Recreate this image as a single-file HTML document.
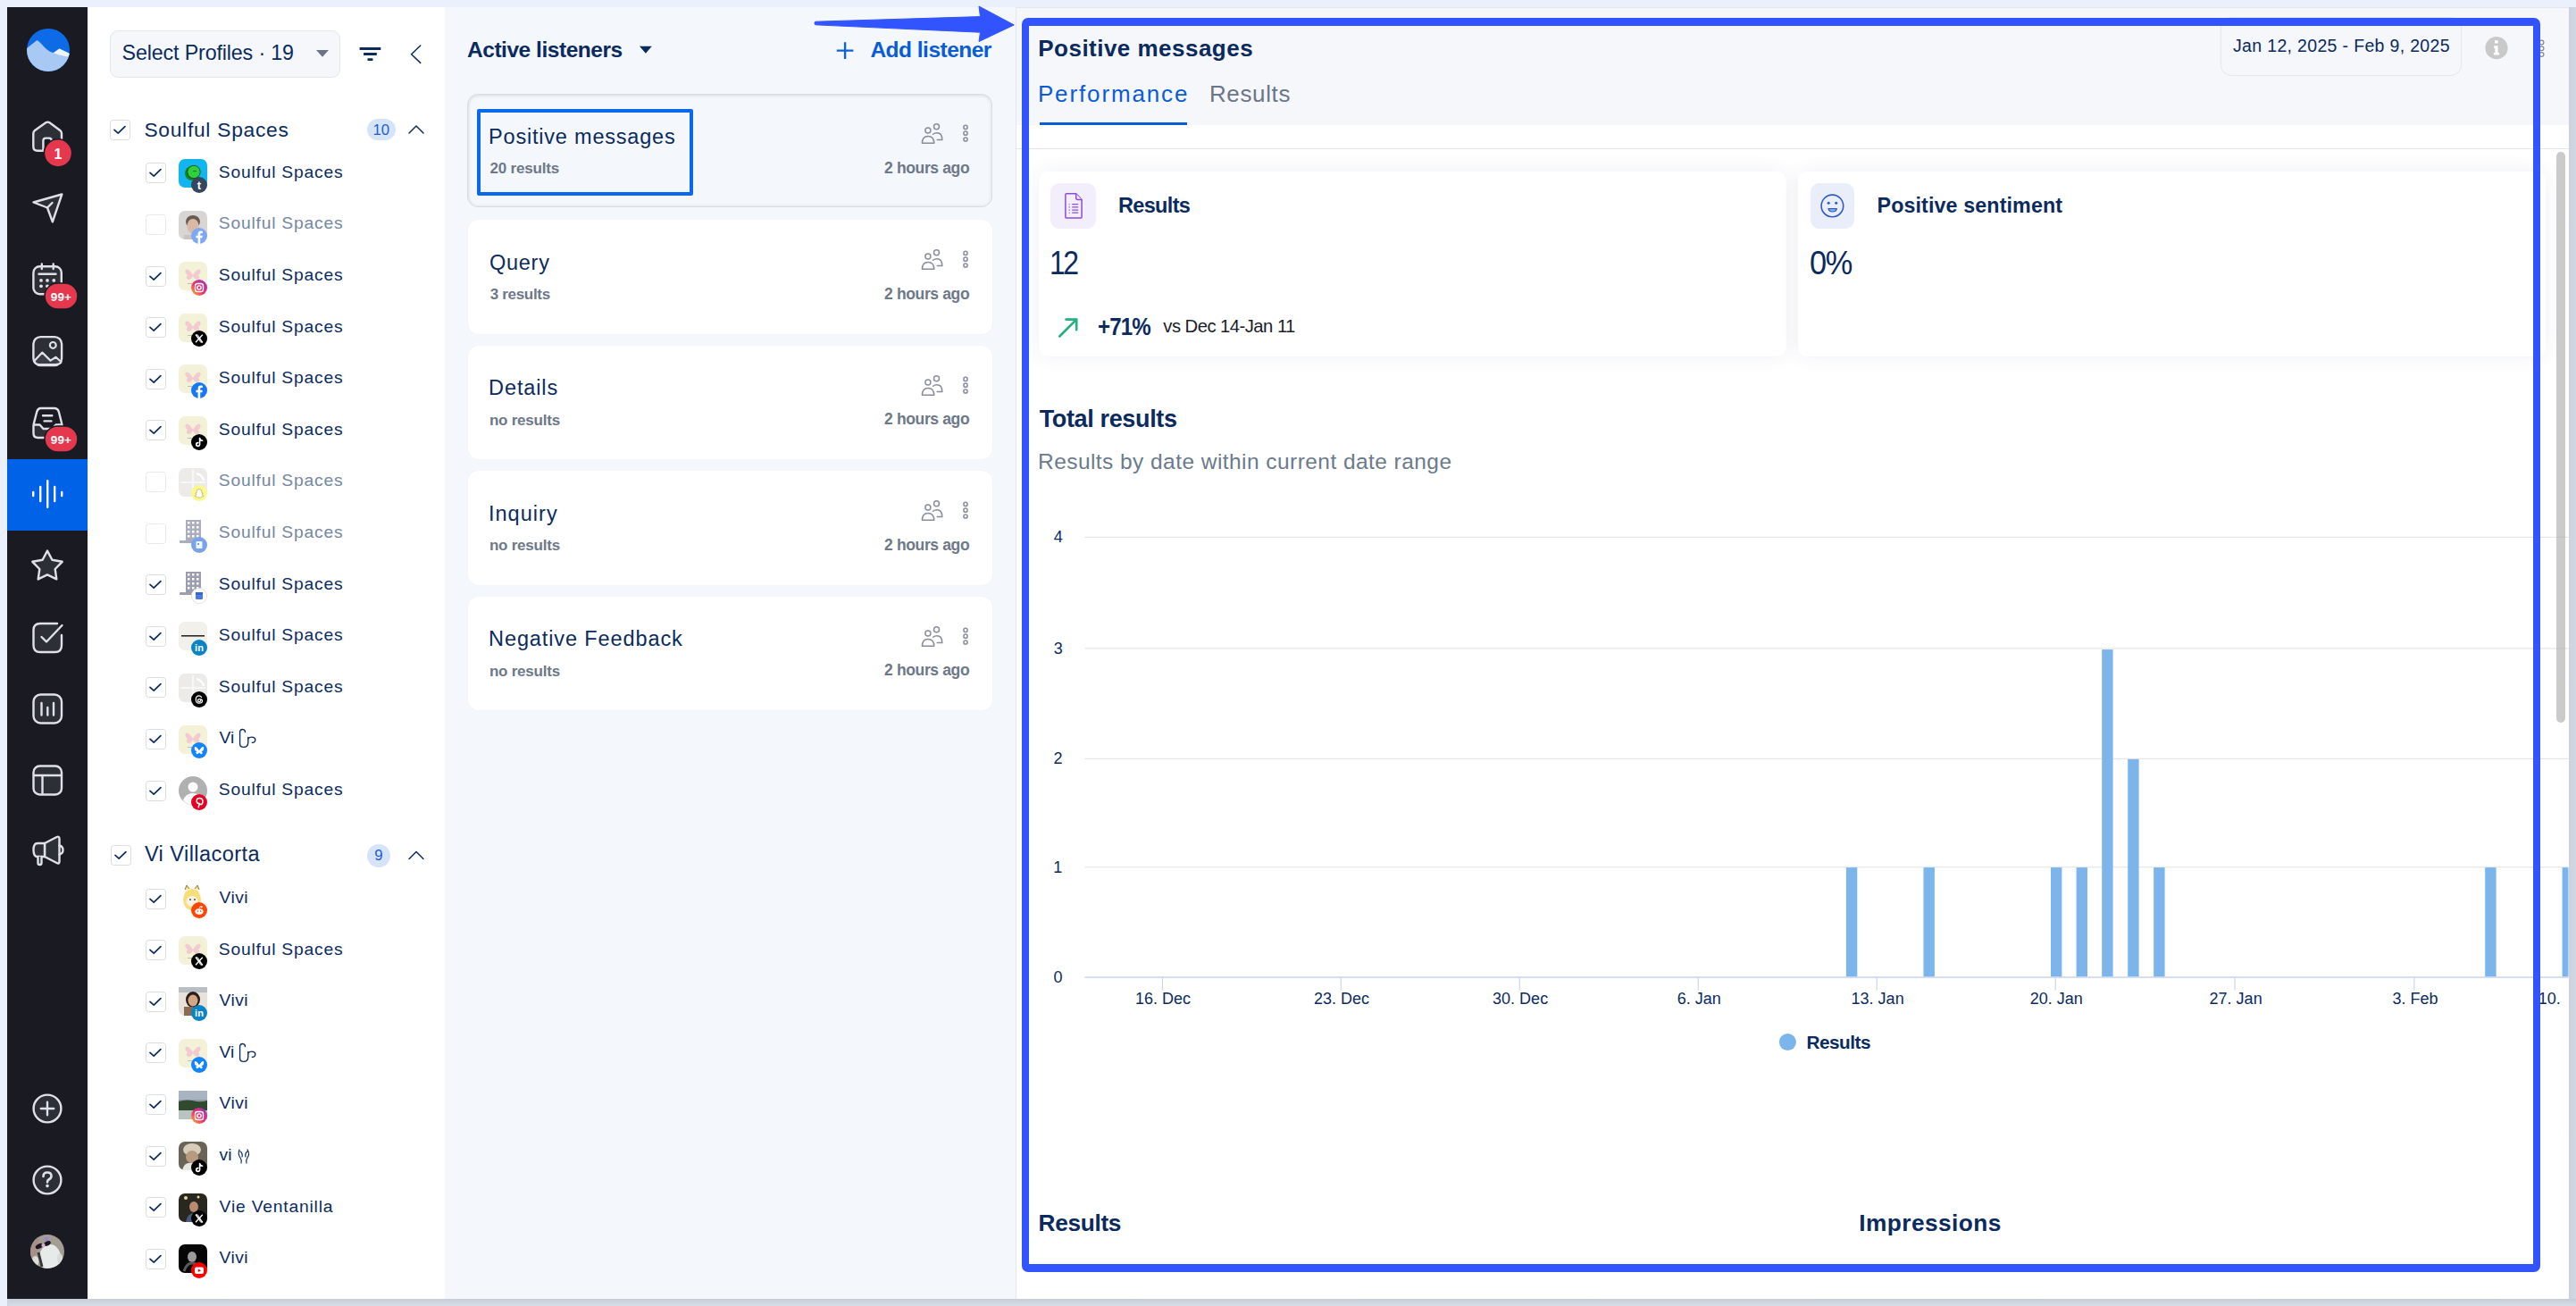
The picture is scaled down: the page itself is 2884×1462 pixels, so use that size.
<!DOCTYPE html>
<html><head><meta charset="utf-8"><title>Listening</title>
<style>
html,body{margin:0;padding:0;width:2884px;height:1462px;overflow:hidden;background:#EAF1FC;font-family:"Liberation Sans",sans-serif;color:#0B2B5E}
.t{position:absolute;line-height:1;white-space:nowrap}
svg{position:absolute;overflow:visible}
</style></head><body>
<div style="position:absolute;left:8px;top:8px;width:2876px;height:1454px;background:#CDD5E0;"></div>
<div style="position:absolute;left:10px;top:1454px;width:2874px;height:8px;background:linear-gradient(#C7CDD8,#D8DEE8);"></div>
<div style="position:absolute;left:2876px;top:8px;width:8px;height:1446px;background:linear-gradient(90deg,#CBD2DD,#D3D9E3);"></div>
<div style="position:absolute;left:8px;top:8px;width:90px;height:1446px;background:#1A1B22;"></div>
<div style="position:absolute;left:8px;top:514px;width:90px;height:80px;background:#0062E6;"></div>
<div style="position:absolute;left:98px;top:8px;width:400px;height:1446px;background:#FFFFFF;"></div>
<div style="position:absolute;left:498px;top:8px;width:639px;height:1446px;background:#F4F7FB;"></div>
<div style="position:absolute;left:1137px;top:8px;width:1739px;height:1446px;background:#FFFFFF;border-left:1px solid #E3E7EC;box-sizing:border-box;"></div>
<div style="position:absolute;left:1138px;top:8px;width:1738px;height:132px;background:#F5F7FB;"></div>
<div style="position:absolute;left:1138px;top:166px;width:1738px;height:1px;background:#E4E7EB;"></div>
<div style="position:absolute;left:1137px;top:8px;width:1739px;height:1px;background:#E3E7ED;"></div>
<svg style="left:0;top:0" width="110" height="1462" viewBox="0 0 110 1462"><defs><clipPath id="lc"><circle cx="54" cy="56" r="24"/></clipPath><clipPath id="avc"><circle cx="53" cy="1401" r="19"/></clipPath><radialGradient id="avg" cx="0.5" cy="0.6" r="0.6"><stop offset="0" stop-color="#F0F0F0"/><stop offset="0.5" stop-color="#B8B5B8"/><stop offset="1" stop-color="#6A6870"/></radialGradient></defs><g clip-path="url(#lc)"><rect x="30" y="32" width="48" height="48" fill="#0E6BE8"/><path d="M30,54 L41.5,45 C46,47 52,58 60,59 L66.5,54.5 L78,60 V80 H30 Z" fill="#A9C9F5"/><path d="M60,59 L66.5,54.5 L78,60 L77,63.5 C70,63 64,61 60,59 Z" fill="#EEF4FD"/></g><path d="M48.4,168.7 H42 Q37.3,168.7 37.3,164 V149.5 Q37.3,147.3 39,146 L51.3,137.3 Q53.4,135.9 55.5,137.3 L67.3,146 Q69,147.3 69,149.5 V164 Q69,168.7 64.3,168.7 H57.8 V157.5 Q57.8,154.6 54.9,154.6 H51.3 Q48.4,154.6 48.4,157.5 Z" fill="#2D2F37" stroke="#DEE1E8" stroke-width="2.4" stroke-linejoin="round" stroke-linecap="round"/><circle cx="65" cy="171.4" r="15.6" fill="#E5384F" stroke="#1A1B22" stroke-width="1.6"/><text x="65" y="177.8" font-family="Liberation Sans" font-weight="700" font-size="16" fill="#fff" text-anchor="middle">1</text><path d="M37.5,226.5 L69.3,217.5 L58.8,248.3 L53,232.5 Z" fill="#2D2F37" stroke="#DEE1E8" stroke-width="2.4" stroke-linejoin="round" stroke-linecap="round"/><path d="M53,232.5 L58.5,227" fill="none" stroke="#DEE1E8" stroke-width="2.4" stroke-linecap="round"/><rect x="37.4" y="298.2" width="31.4" height="31" rx="7" fill="#2D2F37" stroke="#DEE1E8" stroke-width="2.4" stroke-linejoin="round" stroke-linecap="round"/><path d="M43.5,306.8 H62.5 M46.8,295.5 V301 M59.7,295.5 V301" stroke="#DEE1E8" stroke-width="2.4" stroke-linecap="round"/><circle cx="46" cy="313.9" r="1.9" fill="#DEE1E8"/><circle cx="53" cy="313.9" r="1.9" fill="#DEE1E8"/><circle cx="60.3" cy="313.9" r="1.9" fill="#DEE1E8"/><circle cx="46" cy="320.3" r="1.9" fill="#DEE1E8"/><circle cx="53" cy="320.3" r="1.9" fill="#DEE1E8"/><rect x="50" y="317" width="37" height="29" rx="14.5" fill="#E5384F" stroke="#1A1B22" stroke-width="1.6"/><text x="68.5" y="337" font-family="Liberation Sans" font-weight="700" font-size="13.4" fill="#fff" text-anchor="middle" letter-spacing="0.2">99+</text><rect x="37.4" y="377.1" width="31.7" height="32" rx="8" fill="#2D2F37" stroke="#DEE1E8" stroke-width="2.4" stroke-linejoin="round" stroke-linecap="round"/><path d="M38.5,404 L47.3,394.6 L56.5,403.6 L62.6,399.8 L68.2,405 L68.2,406 Q66,408 62,408 H44 Q39.5,408 38.5,404 Z" fill="#3C3E47" stroke="#DEE1E8" stroke-width="2.2" stroke-linejoin="round"/><circle cx="59.3" cy="386.4" r="3.4" fill="none" stroke="#DEE1E8" stroke-width="2.2"/><path d="M38.5,475.5 H44.5 L48.5,480 H58.5 L62.5,475.5 H68.8 V485 Q68.8,489.2 64.5,489.2 H42.5 Q38.3,489.2 38.3,485 Z" fill="#2D2F37"/><path d="M45.5,457 H60.8 Q64.6,457 65.8,460.8 L69,473.5 Q69.5,475.5 69.5,478 V485 Q69.5,490 64.5,490 H42.5 Q37.5,490 37.5,485 V478 Q37.5,475.5 38,473.5 L41.3,460.8 Q42.5,457 45.5,457 Z" fill="none" stroke="#DEE1E8" stroke-width="2.4" stroke-linejoin="round"/><path d="M38.2,475.5 H44.5 L48.5,480 H58.5 L62.5,475.5 H68.8" fill="none" stroke="#DEE1E8" stroke-width="2.4" stroke-linejoin="round"/><path d="M48,465.2 H58.3 M49.6,471.4 H57.4" stroke="#DEE1E8" stroke-width="2.4" stroke-linecap="round"/><rect x="50" y="477" width="37" height="29" rx="14.5" fill="#E5384F" stroke="#1A1B22" stroke-width="1.6"/><text x="68.5" y="497" font-family="Liberation Sans" font-weight="700" font-size="13.4" fill="#fff" text-anchor="middle" letter-spacing="0.2">99+</text><path d="M37.2,551 V555 M45.2,545 V561 M53.2,538.2 V567.8 M61.2,545 V561 M69.2,551 V555" stroke="#fff" stroke-width="2.4" stroke-linecap="round"/><polygon points="53.0,616.6 58.4,626.8 69.7,628.8 61.7,637.0 63.3,648.4 53.0,643.4 42.7,648.4 44.3,637.0 36.3,628.8 47.6,626.8" fill="#2D2F37" stroke="#DEE1E8" stroke-width="2.4" stroke-linejoin="round" stroke-linecap="round" stroke-linejoin="round"/><path d="M64,698 H45 Q37.5,698 37.5,705.5 V722.5 Q37.5,730 45,730 H61.5 Q69,730 69,722.5 V711" fill="#2D2F37" stroke="#DEE1E8" stroke-width="2.4" stroke-linejoin="round" stroke-linecap="round"/><path d="M46.5,713 L52,718.5 L69.5,700" fill="none" stroke="#DEE1E8" stroke-width="2.4" stroke-linecap="round" stroke-linejoin="round"/><rect x="37.5" y="777.5" width="31.5" height="32" rx="8" fill="#2D2F37" stroke="#DEE1E8" stroke-width="2.4" stroke-linejoin="round" stroke-linecap="round"/><path d="M46.5,787 V800.5 M53.3,792 V800.5 M60,787 V800.5" stroke="#DEE1E8" stroke-width="2.4" stroke-linecap="round"/><rect x="37.5" y="857.5" width="31.5" height="32" rx="7" fill="#2D2F37" stroke="#DEE1E8" stroke-width="2.4" stroke-linejoin="round" stroke-linecap="round"/><path d="M38,868 H68.5 M47.5,868 V889" stroke="#DEE1E8" stroke-width="2.4"/><path d="M50,944 L63.5,937 Q66.5,935.8 66.5,939 V964.5 Q66.5,967.5 63.5,966 L50,959 Z" fill="#2D2F37" stroke="#DEE1E8" stroke-width="2.4" stroke-linejoin="round" stroke-linecap="round"/><path d="M50,944 H42 Q37.5,944 37.5,951.5 Q37.5,959 42,959 H50 Z" fill="#2D2F37" stroke="#DEE1E8" stroke-width="2.4" stroke-linejoin="round" stroke-linecap="round"/><path d="M42.5,959 V966 Q42.5,968 44.5,968 Q46.5,968 46.5,966 V959" fill="#2D2F37" stroke="#DEE1E8" stroke-width="2.4" stroke-linejoin="round" stroke-linecap="round"/><path d="M66.5,946.5 Q70.5,947.5 70.5,951.5 Q70.5,955.5 66.5,956.5" fill="none" stroke="#DEE1E8" stroke-width="2.4" stroke-linecap="round"/><circle cx="53" cy="1241" r="15.4" fill="#2D2F37" stroke="#DEE1E8" stroke-width="2.4" stroke-linejoin="round" stroke-linecap="round"/><path d="M45.8,1241 H60.2 M53,1233.8 V1248.2" stroke="#DEE1E8" stroke-width="2.4" stroke-linecap="round"/><circle cx="53" cy="1321" r="15.4" fill="#2D2F37" stroke="#DEE1E8" stroke-width="2.4" stroke-linejoin="round" stroke-linecap="round"/><path d="M48.5,1317 Q48.5,1312.5 53,1312.5 Q57.5,1312.5 57.5,1316.5 Q57.5,1319 54.5,1320.5 Q53,1321.3 53,1323.5" fill="none" stroke="#DEE1E8" stroke-width="2.6" stroke-linecap="round"/><circle cx="53" cy="1327.6" r="1.8" fill="#DEE1E8"/><g clip-path="url(#avc)"><rect x="33" y="1381" width="40" height="40" fill="#A39D94"/><path d="M33,1381 H45 L42,1400 L38,1412 L33,1412 Z" fill="#A8908A"/><ellipse cx="56" cy="1408" rx="12" ry="15" fill="#E6EAE8"/><ellipse cx="39.5" cy="1412" rx="4" ry="6" fill="#DADDDB"/><ellipse cx="67" cy="1409" rx="3" ry="6" fill="#D8DBD9"/><path d="M43,1402 Q45,1410 47,1418" stroke="#3A3434" stroke-width="3" fill="none"/><ellipse cx="44" cy="1395" rx="4.5" ry="2.6" fill="#1E1420" transform="rotate(-25 44 1395)"/><ellipse cx="53" cy="1392" rx="4" ry="2.5" fill="#1E1420" transform="rotate(-25 53 1392)"/><ellipse cx="48.5" cy="1394" rx="2.2" ry="2" fill="#D8B0C8"/><circle cx="52" cy="1387" r="2.3" fill="#9C86D8"/></g></svg>
<svg width="0" height="0" style="left:0;top:0"><defs><linearGradient id="igg" x1="0" y1="1" x2="1" y2="0"><stop offset="0" stop-color="#FDC22B"/><stop offset="0.45" stop-color="#F02E6C"/><stop offset="1" stop-color="#8A3AC8"/></linearGradient></defs></svg><div style="position:absolute;left:123px;top:34.4px;width:258.3px;height:53px;box-sizing:border-box;background:#F5F7FB;border:1px solid #E2E7EE;border-radius:9px;"></div>
<div class="t" style="left:136.60px;top:48.11px;font-size:23.25px;letter-spacing:-0.142px;">Select Profiles · 19</div>
<svg style="left:0;top:0" width="500" height="200" viewBox="0 0 500 200"><path d="M354,56 H368 L361,63.8 Z" fill="#6B7384"/><path d="M402.6,54.5 H426.3 M407.1,60.5 H421.8 M411.5,66.6 H417.4" stroke="#0B2B5E" stroke-width="2.9" stroke-linecap="butt"/><path d="M470.7,51 L460.6,60.7 L470.7,70.4" fill="none" stroke="#0B2B5E" stroke-width="1.5" stroke-linecap="round" stroke-linejoin="round"/></svg><div style="position:absolute;left:123.3px;top:134.2px;width:23px;height:23px;box-sizing:border-box;border:1.3px solid #D8DDE5;border-radius:3.5px;background:#fff;"></div>
<svg style="left:123.3px;top:134.2px" width="23" height="23" viewBox="0 0 23 23"><path d="M5,11.3 L9.2,15.2 L16.9,7.6" fill="none" stroke="#0B2B5E" stroke-width="1.7" stroke-linecap="round" stroke-linejoin="round"/></svg><div class="t" style="left:161.40px;top:133.54px;font-size:22.75px;letter-spacing:0.746px;">Soulful Spaces</div>
<div style="position:absolute;left:411px;top:133.4px;width:32px;height:24px;background:#D6E4FA;border-radius:12px;"></div>
<div class="t" style="left:417.40px;top:137.82px;font-size:16.75px;color:#1F5BD0;">10</div>
<svg style="left:455px;top:136px" width="22" height="16" viewBox="0 0 22 16"><path d="M3,13 L11,5 L19,13" fill="none" stroke="#0B2B5E" stroke-width="1.45" stroke-linecap="round" stroke-linejoin="round"/></svg><div style="position:absolute;left:162.5px;top:182.3px;width:23px;height:23px;box-sizing:border-box;border:1.3px solid #D8DDE5;border-radius:3.5px;background:#fff;"></div>
<svg style="left:162.5px;top:182.3px" width="23" height="23" viewBox="0 0 23 23"><path d="M5,11.3 L9.2,15.2 L16.9,7.6" fill="none" stroke="#0B2B5E" stroke-width="1.7" stroke-linecap="round" stroke-linejoin="round"/></svg><svg style="left:200px;top:178.0px" width="32" height="32" viewBox="0 0 32 32"><rect width="32" height="32" rx="7" fill="#12B5F0"/><circle cx="15" cy="16" r="8" fill="#1C7F22"/><circle cx="17" cy="14.5" r="7.2" fill="#2FD13A" stroke="#0B3B0E" stroke-width="0.8"/><circle cx="17" cy="13.5" r="0.6" fill="#000"/><circle cx="19" cy="13.5" r="0.6" fill="#000"/></svg><svg style="left:213.6px;top:197.60000000000002px" width="18" height="18" viewBox="0 0 18 18"><circle cx="9" cy="9" r="9" fill="#36465D"/><text x="9" y="13.5" font-family="Liberation Sans" font-weight="700" font-size="13" fill="#fff" text-anchor="middle">t</text></svg><div class="t" style="left:244.80px;top:182.70px;font-size:19.25px;letter-spacing:0.792px;">Soulful Spaces</div>
<div style="position:absolute;left:162.5px;top:239.9px;width:23px;height:23px;box-sizing:border-box;border:1.3px solid #E6E9EE;border-radius:3.5px;background:#fff;"></div>
<svg style="left:200px;top:235.6px" width="32" height="32" viewBox="0 0 32 32"><rect width="32" height="32" rx="7" fill="#D8D6D4"/><ellipse cx="16" cy="12" rx="8" ry="7" fill="#6A5A50"/><ellipse cx="16" cy="17" rx="6.5" ry="8" fill="#D9B8A5"/><rect x="6" y="27" width="20" height="5" fill="#C9C4C0"/></svg><svg style="left:213.6px;top:255.2px" width="18" height="18" viewBox="0 0 18 18"><circle cx="9" cy="9" r="9" fill="#7EA8F5"/><path d="M10.2,18 V11.3 H12.4 L12.8,8.7 H10.2 V7.2 Q10.2,6 11.4,6 H12.9 V3.8 Q12,3.6 10.9,3.6 Q7.6,3.6 7.6,7 V8.7 H5.4 V11.3 H7.6 V18 Z" fill="#fff"/></svg><div class="t" style="left:244.80px;top:240.30px;font-size:19.25px;color:#7587A1;letter-spacing:0.792px;">Soulful Spaces</div>
<div style="position:absolute;left:162.5px;top:297.5px;width:23px;height:23px;box-sizing:border-box;border:1.3px solid #D8DDE5;border-radius:3.5px;background:#fff;"></div>
<svg style="left:162.5px;top:297.5px" width="23" height="23" viewBox="0 0 23 23"><path d="M5,11.3 L9.2,15.2 L16.9,7.6" fill="none" stroke="#0B2B5E" stroke-width="1.7" stroke-linecap="round" stroke-linejoin="round"/></svg><svg style="left:200px;top:293.2px" width="32" height="32" viewBox="0 0 32 32"><rect width="32" height="32" rx="7" fill="#F3F2D8"/><path d="M16,15 Q11,7 8,9 Q6,12 10,15 Q7,19 11,20 Q14,20 16,16 Q18,20 21,20 Q25,19 22,15 Q26,12 24,9 Q21,7 16,15 Z" fill="#F2C5CF" opacity="0.9"/><rect x="10" y="24" width="12" height="1" fill="#C8B9A8"/></svg><svg style="left:213.6px;top:312.8px" width="18" height="18" viewBox="0 0 18 18"><circle cx="9" cy="9" r="9" fill="url(#igg)"/><rect x="4.5" y="4.5" width="9" height="9" rx="2.6" fill="none" stroke="#fff" stroke-width="1.4"/><circle cx="9" cy="9" r="2.1" fill="none" stroke="#fff" stroke-width="1.4"/></svg><div class="t" style="left:244.80px;top:297.90px;font-size:19.25px;letter-spacing:0.792px;">Soulful Spaces</div>
<div style="position:absolute;left:162.5px;top:355.1px;width:23px;height:23px;box-sizing:border-box;border:1.3px solid #D8DDE5;border-radius:3.5px;background:#fff;"></div>
<svg style="left:162.5px;top:355.1px" width="23" height="23" viewBox="0 0 23 23"><path d="M5,11.3 L9.2,15.2 L16.9,7.6" fill="none" stroke="#0B2B5E" stroke-width="1.7" stroke-linecap="round" stroke-linejoin="round"/></svg><svg style="left:200px;top:350.8px" width="32" height="32" viewBox="0 0 32 32"><rect width="32" height="32" rx="7" fill="#F3F2D8"/><path d="M16,15 Q11,7 8,9 Q6,12 10,15 Q7,19 11,20 Q14,20 16,16 Q18,20 21,20 Q25,19 22,15 Q26,12 24,9 Q21,7 16,15 Z" fill="#F2C5CF" opacity="0.9"/><rect x="10" y="24" width="12" height="1" fill="#C8B9A8"/></svg><svg style="left:213.6px;top:370.40000000000003px" width="18" height="18" viewBox="0 0 18 18"><circle cx="9" cy="9" r="9" fill="#000"/><path d="M5,4.8 L12.8,13.2 M12.8,4.8 L5,13.2" stroke="#fff" stroke-width="1.3"/><path d="M5.3,4.8 H7.3 L12.7,13.2 H10.7 Z" fill="none" stroke="#fff" stroke-width="0.9"/></svg><div class="t" style="left:244.80px;top:355.50px;font-size:19.25px;letter-spacing:0.792px;">Soulful Spaces</div>
<div style="position:absolute;left:162.5px;top:412.70000000000005px;width:23px;height:23px;box-sizing:border-box;border:1.3px solid #D8DDE5;border-radius:3.5px;background:#fff;"></div>
<svg style="left:162.5px;top:412.70000000000005px" width="23" height="23" viewBox="0 0 23 23"><path d="M5,11.3 L9.2,15.2 L16.9,7.6" fill="none" stroke="#0B2B5E" stroke-width="1.7" stroke-linecap="round" stroke-linejoin="round"/></svg><svg style="left:200px;top:408.40000000000003px" width="32" height="32" viewBox="0 0 32 32"><rect width="32" height="32" rx="7" fill="#F3F2D8"/><path d="M16,15 Q11,7 8,9 Q6,12 10,15 Q7,19 11,20 Q14,20 16,16 Q18,20 21,20 Q25,19 22,15 Q26,12 24,9 Q21,7 16,15 Z" fill="#F2C5CF" opacity="0.9"/><rect x="10" y="24" width="12" height="1" fill="#C8B9A8"/></svg><svg style="left:213.6px;top:428.00000000000006px" width="18" height="18" viewBox="0 0 18 18"><circle cx="9" cy="9" r="9" fill="#1877F2"/><path d="M10.2,18 V11.3 H12.4 L12.8,8.7 H10.2 V7.2 Q10.2,6 11.4,6 H12.9 V3.8 Q12,3.6 10.9,3.6 Q7.6,3.6 7.6,7 V8.7 H5.4 V11.3 H7.6 V18 Z" fill="#fff"/></svg><div class="t" style="left:244.80px;top:413.10px;font-size:19.25px;letter-spacing:0.792px;">Soulful Spaces</div>
<div style="position:absolute;left:162.5px;top:470.3px;width:23px;height:23px;box-sizing:border-box;border:1.3px solid #D8DDE5;border-radius:3.5px;background:#fff;"></div>
<svg style="left:162.5px;top:470.3px" width="23" height="23" viewBox="0 0 23 23"><path d="M5,11.3 L9.2,15.2 L16.9,7.6" fill="none" stroke="#0B2B5E" stroke-width="1.7" stroke-linecap="round" stroke-linejoin="round"/></svg><svg style="left:200px;top:466.0px" width="32" height="32" viewBox="0 0 32 32"><rect width="32" height="32" rx="7" fill="#F3F2D8"/><path d="M16,15 Q11,7 8,9 Q6,12 10,15 Q7,19 11,20 Q14,20 16,16 Q18,20 21,20 Q25,19 22,15 Q26,12 24,9 Q21,7 16,15 Z" fill="#F2C5CF" opacity="0.9"/><rect x="10" y="24" width="12" height="1" fill="#C8B9A8"/></svg><svg style="left:213.6px;top:485.6px" width="18" height="18" viewBox="0 0 18 18"><circle cx="9" cy="9" r="9" fill="#000"/><path d="M9.6,4.5 V11.3 Q9.6,13.4 7.6,13.4 Q5.7,13.4 5.7,11.5 Q5.7,9.6 7.8,9.6 M9.6,4.5 Q10,6.8 12.6,7.2" fill="none" stroke="#fff" stroke-width="1.6" stroke-linecap="round"/></svg><div class="t" style="left:244.80px;top:470.70px;font-size:19.25px;letter-spacing:0.792px;">Soulful Spaces</div>
<div style="position:absolute;left:162.5px;top:527.9000000000001px;width:23px;height:23px;box-sizing:border-box;border:1.3px solid #E6E9EE;border-radius:3.5px;background:#fff;"></div>
<svg style="left:200px;top:523.6000000000001px" width="32" height="32" viewBox="0 0 32 32"><rect width="32" height="32" rx="7" fill="#ECEBEA"/><path d="M16,2 V30 M2,16 H30" stroke="#F7F7F7" stroke-width="2"/><path d="M20,6 Q27,8 28,14" stroke="#fff" stroke-width="2" fill="none"/></svg><svg style="left:213.6px;top:543.2px" width="18" height="18" viewBox="0 0 18 18"><circle cx="9" cy="9" r="9" fill="#FAF98A"/><path d="M9,4.5 Q12,4.5 12,8 L12,9 L13.3,9.3 L12,10.5 Q12.8,12 14,12.5 Q12.8,13.2 11.6,13.2 Q10.5,14.2 9,14.2 Q7.5,14.2 6.4,13.2 Q5.2,13.2 4,12.5 Q5.2,12 6,10.5 L4.7,9.3 L6,9 L6,8 Q6,4.5 9,4.5 Z" fill="#fff" stroke="#9A9A60" stroke-width="0.6"/></svg><div class="t" style="left:244.80px;top:528.30px;font-size:19.25px;color:#7587A1;letter-spacing:0.792px;">Soulful Spaces</div>
<div style="position:absolute;left:162.5px;top:585.5px;width:23px;height:23px;box-sizing:border-box;border:1.3px solid #E6E9EE;border-radius:3.5px;background:#fff;"></div>
<svg style="left:200px;top:581.2px" width="32" height="32" viewBox="0 0 32 32"><rect x="8" y="1" width="17" height="24" fill="#A9ADBC"/><rect x="10" y="3" width="2.5" height="2.5" fill="#fff"/><rect x="10" y="8" width="2.5" height="2.5" fill="#fff"/><rect x="10" y="13" width="2.5" height="2.5" fill="#fff"/><rect x="10" y="18" width="2.5" height="2.5" fill="#fff"/><rect x="15" y="3" width="2.5" height="2.5" fill="#fff"/><rect x="15" y="8" width="2.5" height="2.5" fill="#fff"/><rect x="15" y="13" width="2.5" height="2.5" fill="#fff"/><rect x="15" y="18" width="2.5" height="2.5" fill="#fff"/><rect x="20" y="3" width="2.5" height="2.5" fill="#fff"/><rect x="20" y="8" width="2.5" height="2.5" fill="#fff"/><rect x="20" y="13" width="2.5" height="2.5" fill="#fff"/><rect x="20" y="18" width="2.5" height="2.5" fill="#fff"/><rect x="1" y="24" width="16" height="3" rx="1" fill="#A9ADBC"/></svg><svg style="left:213.6px;top:600.8px" width="18" height="18" viewBox="0 0 18 18"><circle cx="9" cy="9" r="9" fill="#7BA3EA"/><rect x="5.5" y="5" width="7" height="8" rx="1" fill="#fff" opacity="0.9"/><rect x="7" y="7" width="2" height="2" fill="#7BA3EA"/></svg><div class="t" style="left:244.80px;top:585.90px;font-size:19.25px;color:#7587A1;letter-spacing:0.792px;">Soulful Spaces</div>
<div style="position:absolute;left:162.5px;top:643.1px;width:23px;height:23px;box-sizing:border-box;border:1.3px solid #D8DDE5;border-radius:3.5px;background:#fff;"></div>
<svg style="left:162.5px;top:643.1px" width="23" height="23" viewBox="0 0 23 23"><path d="M5,11.3 L9.2,15.2 L16.9,7.6" fill="none" stroke="#0B2B5E" stroke-width="1.7" stroke-linecap="round" stroke-linejoin="round"/></svg><svg style="left:200px;top:638.8000000000001px" width="32" height="32" viewBox="0 0 32 32"><rect x="8" y="1" width="17" height="24" fill="#9A9EAF"/><rect x="10" y="3" width="2.5" height="2.5" fill="#fff"/><rect x="10" y="8" width="2.5" height="2.5" fill="#fff"/><rect x="10" y="13" width="2.5" height="2.5" fill="#fff"/><rect x="10" y="18" width="2.5" height="2.5" fill="#fff"/><rect x="15" y="3" width="2.5" height="2.5" fill="#fff"/><rect x="15" y="8" width="2.5" height="2.5" fill="#fff"/><rect x="15" y="13" width="2.5" height="2.5" fill="#fff"/><rect x="15" y="18" width="2.5" height="2.5" fill="#fff"/><rect x="20" y="3" width="2.5" height="2.5" fill="#fff"/><rect x="20" y="8" width="2.5" height="2.5" fill="#fff"/><rect x="20" y="13" width="2.5" height="2.5" fill="#fff"/><rect x="20" y="18" width="2.5" height="2.5" fill="#fff"/><rect x="1" y="24" width="16" height="3" rx="1" fill="#9A9EAF"/></svg><svg style="left:213.6px;top:658.4px" width="18" height="18" viewBox="0 0 18 18"><circle cx="9" cy="9" r="8.6" fill="#fff" stroke="#DCDCDC" stroke-width="0.8"/><rect x="5" y="5" width="8" height="8" rx="1" fill="#4A7CE8"/><rect x="5" y="5" width="8" height="3" fill="#3367D6"/></svg><div class="t" style="left:244.80px;top:643.50px;font-size:19.25px;letter-spacing:0.792px;">Soulful Spaces</div>
<div style="position:absolute;left:162.5px;top:700.7px;width:23px;height:23px;box-sizing:border-box;border:1.3px solid #D8DDE5;border-radius:3.5px;background:#fff;"></div>
<svg style="left:162.5px;top:700.7px" width="23" height="23" viewBox="0 0 23 23"><path d="M5,11.3 L9.2,15.2 L16.9,7.6" fill="none" stroke="#0B2B5E" stroke-width="1.7" stroke-linecap="round" stroke-linejoin="round"/></svg><svg style="left:200px;top:696.4000000000001px" width="32" height="32" viewBox="0 0 32 32"><rect width="32" height="32" rx="7" fill="#F2F0EA"/><rect x="3" y="15" width="26" height="1.6" fill="#2A2A2A"/></svg><svg style="left:213.6px;top:716.0px" width="18" height="18" viewBox="0 0 18 18"><circle cx="9" cy="9" r="9" fill="#0A84C6"/><text x="9" y="13.2" font-family="Liberation Sans" font-weight="700" font-size="11" fill="#fff" text-anchor="middle">in</text></svg><div class="t" style="left:244.80px;top:701.10px;font-size:19.25px;letter-spacing:0.792px;">Soulful Spaces</div>
<div style="position:absolute;left:162.5px;top:758.3px;width:23px;height:23px;box-sizing:border-box;border:1.3px solid #D8DDE5;border-radius:3.5px;background:#fff;"></div>
<svg style="left:162.5px;top:758.3px" width="23" height="23" viewBox="0 0 23 23"><path d="M5,11.3 L9.2,15.2 L16.9,7.6" fill="none" stroke="#0B2B5E" stroke-width="1.7" stroke-linecap="round" stroke-linejoin="round"/></svg><svg style="left:200px;top:754.0px" width="32" height="32" viewBox="0 0 32 32"><rect width="32" height="32" rx="7" fill="#ECEBEA"/><path d="M16,2 V30 M2,16 H30" stroke="#F7F7F7" stroke-width="2"/><path d="M20,6 Q27,8 28,14" stroke="#fff" stroke-width="2" fill="none"/></svg><svg style="left:213.6px;top:773.5999999999999px" width="18" height="18" viewBox="0 0 18 18"><circle cx="9" cy="9" r="9" fill="#000"/><path d="M11.8,7 Q11,4.8 8.9,4.8 Q5.3,4.8 5.3,9 Q5.3,13.2 8.9,13.2 Q12.5,13.2 12.5,10.6 Q12.5,8.6 9.5,8.6 Q7.4,8.6 7.4,10.3 Q7.4,11.6 9,11.6 Q11,11.6 11,8.6" fill="none" stroke="#fff" stroke-width="1.2"/></svg><div class="t" style="left:244.80px;top:758.70px;font-size:19.25px;letter-spacing:0.792px;">Soulful Spaces</div>
<div style="position:absolute;left:162.5px;top:815.9000000000001px;width:23px;height:23px;box-sizing:border-box;border:1.3px solid #D8DDE5;border-radius:3.5px;background:#fff;"></div>
<svg style="left:162.5px;top:815.9000000000001px" width="23" height="23" viewBox="0 0 23 23"><path d="M5,11.3 L9.2,15.2 L16.9,7.6" fill="none" stroke="#0B2B5E" stroke-width="1.7" stroke-linecap="round" stroke-linejoin="round"/></svg><svg style="left:200px;top:811.6000000000001px" width="32" height="32" viewBox="0 0 32 32"><rect width="32" height="32" rx="7" fill="#F3F2D8"/><path d="M16,15 Q11,7 8,9 Q6,12 10,15 Q7,19 11,20 Q14,20 16,16 Q18,20 21,20 Q25,19 22,15 Q26,12 24,9 Q21,7 16,15 Z" fill="#F2C5CF" opacity="0.9"/><rect x="10" y="24" width="12" height="1" fill="#C8B9A8"/></svg><svg style="left:213.6px;top:831.2px" width="18" height="18" viewBox="0 0 18 18"><circle cx="9" cy="9" r="9" fill="#1185FE"/><path d="M9,9.3 Q6.5,5 4.5,5 Q3.6,5 3.8,7 Q4,9.8 6.8,10.2 Q4.6,10.8 5.6,12.6 Q7.2,14.4 9,11.2 Q10.8,14.4 12.4,12.6 Q13.4,10.8 11.2,10.2 Q14,9.8 14.2,7 Q14.4,5 13.5,5 Q11.5,5 9,9.3 Z" fill="#fff"/></svg><div class="t" style="left:245.60px;top:816.30px;font-size:19.25px;">Vi</div>
<svg style="left:264px;top:813.4000000000001px" width="28" height="28" viewBox="0 0 28 28"><g fill="none" stroke="#0B2B5E" stroke-width="1.35" stroke-linecap="round"><path d="M4.6,5.6 Q5.6,3.2 8.3,3.6 Q10.8,4.2 10.4,6.6"/><path d="M4.6,5.6 V19.5 Q4.6,23.4 8.7,23.4 Q13.8,23.4 13.8,18 V12.5"/><path d="M13.8,13.8 Q16,11.6 19.4,12.3 Q22.6,13.5 21.6,16.5 Q20.6,18.6 18.3,18.3"/></g></svg><div style="position:absolute;left:162.5px;top:873.5px;width:23px;height:23px;box-sizing:border-box;border:1.3px solid #D8DDE5;border-radius:3.5px;background:#fff;"></div>
<svg style="left:162.5px;top:873.5px" width="23" height="23" viewBox="0 0 23 23"><path d="M5,11.3 L9.2,15.2 L16.9,7.6" fill="none" stroke="#0B2B5E" stroke-width="1.7" stroke-linecap="round" stroke-linejoin="round"/></svg><svg style="left:200px;top:869.2px" width="32" height="32" viewBox="0 0 32 32"><circle cx="16" cy="16" r="16" fill="#B0B0B0"/><circle cx="16" cy="12" r="5.5" fill="#fff"/><path d="M5,27 Q8,19 16,19 Q24,19 27,27 Q22,32 16,32 Q10,32 5,27 Z" fill="#fff"/></svg><svg style="left:213.6px;top:888.8px" width="18" height="18" viewBox="0 0 18 18"><circle cx="9" cy="9" r="9" fill="#E60023"/><path d="M8.2,14.8 L9.3,10.5 M9,4.5 Q13,4.5 13,8.2 Q13,11.6 10.2,11.6 Q9,11.6 9,10.6 M8.6,10.5 Q6.2,10.3 6.2,8 Q6.2,4.5 9,4.5" fill="none" stroke="#fff" stroke-width="1.5" stroke-linecap="round"/></svg><div class="t" style="left:244.80px;top:873.90px;font-size:19.25px;letter-spacing:0.792px;">Soulful Spaces</div>
<div style="position:absolute;left:123.5px;top:946.4px;width:23px;height:23px;box-sizing:border-box;border:1.3px solid #D8DDE5;border-radius:3.5px;background:#fff;"></div>
<svg style="left:123.5px;top:946.4px" width="23" height="23" viewBox="0 0 23 23"><path d="M5,11.3 L9.2,15.2 L16.9,7.6" fill="none" stroke="#0B2B5E" stroke-width="1.7" stroke-linecap="round" stroke-linejoin="round"/></svg><div class="t" style="left:161.90px;top:944.90px;font-size:23.5px;letter-spacing:0.458px;">Vi Villacorta</div>
<div style="position:absolute;left:411px;top:945px;width:26px;height:26px;background:#D6E4FA;border-radius:13px;"></div>
<div class="t" style="left:419.35px;top:949.62px;font-size:16.75px;color:#1F5BD0;">9</div>
<svg style="left:455px;top:949px" width="22" height="16" viewBox="0 0 22 16"><path d="M3,12.5 L11,4.5 L19,12.5" fill="none" stroke="#0B2B5E" stroke-width="1.45" stroke-linecap="round" stroke-linejoin="round"/></svg><div style="position:absolute;left:162.5px;top:994.5px;width:23px;height:23px;box-sizing:border-box;border:1.3px solid #D8DDE5;border-radius:3.5px;background:#fff;"></div>
<svg style="left:162.5px;top:994.5px" width="23" height="23" viewBox="0 0 23 23"><path d="M5,11.3 L9.2,15.2 L16.9,7.6" fill="none" stroke="#0B2B5E" stroke-width="1.7" stroke-linecap="round" stroke-linejoin="round"/></svg><svg style="left:200px;top:990.2px" width="32" height="32" viewBox="0 0 32 32"><ellipse cx="15" cy="17" rx="10" ry="12" fill="#F7DE78"/><ellipse cx="15" cy="19" rx="6.5" ry="6" fill="#FBF1E6"/><path d="M7,6 L9,1 L12,5 M18,5 L21,1 L23,6" stroke="#8A7A40" stroke-width="1" fill="#F7DE78"/><circle cx="13" cy="17" r="0.9" fill="#333"/><circle cx="18" cy="17" r="0.9" fill="#333"/></svg><svg style="left:213.6px;top:1009.8px" width="18" height="18" viewBox="0 0 18 18"><circle cx="9" cy="9" r="9" fill="#FF4500"/><ellipse cx="9" cy="10.5" rx="4.6" ry="3.2" fill="#fff"/><circle cx="11.8" cy="5.3" r="1.1" fill="#fff"/><path d="M9,7.3 L10,4.8 L11.8,5.3" stroke="#fff" stroke-width="0.8" fill="none"/><circle cx="7.4" cy="10.1" r="0.8" fill="#FF4500"/><circle cx="10.6" cy="10.1" r="0.8" fill="#FF4500"/></svg><div class="t" style="left:245.60px;top:994.90px;font-size:19.25px;letter-spacing:0.433px;">Vivi</div>
<div style="position:absolute;left:162.5px;top:1052.1px;width:23px;height:23px;box-sizing:border-box;border:1.3px solid #D8DDE5;border-radius:3.5px;background:#fff;"></div>
<svg style="left:162.5px;top:1052.1px" width="23" height="23" viewBox="0 0 23 23"><path d="M5,11.3 L9.2,15.2 L16.9,7.6" fill="none" stroke="#0B2B5E" stroke-width="1.7" stroke-linecap="round" stroke-linejoin="round"/></svg><svg style="left:200px;top:1047.8px" width="32" height="32" viewBox="0 0 32 32"><rect width="32" height="32" rx="7" fill="#F3F2D8"/><path d="M16,15 Q11,7 8,9 Q6,12 10,15 Q7,19 11,20 Q14,20 16,16 Q18,20 21,20 Q25,19 22,15 Q26,12 24,9 Q21,7 16,15 Z" fill="#F2C5CF" opacity="0.9"/><rect x="10" y="24" width="12" height="1" fill="#C8B9A8"/></svg><svg style="left:213.6px;top:1067.3999999999999px" width="18" height="18" viewBox="0 0 18 18"><circle cx="9" cy="9" r="9" fill="#000"/><path d="M5,4.8 L12.8,13.2 M12.8,4.8 L5,13.2" stroke="#fff" stroke-width="1.3"/><path d="M5.3,4.8 H7.3 L12.7,13.2 H10.7 Z" fill="none" stroke="#fff" stroke-width="0.9"/></svg><div class="t" style="left:244.80px;top:1052.50px;font-size:19.25px;letter-spacing:0.792px;">Soulful Spaces</div>
<div style="position:absolute;left:162.5px;top:1109.7px;width:23px;height:23px;box-sizing:border-box;border:1.3px solid #D8DDE5;border-radius:3.5px;background:#fff;"></div>
<svg style="left:162.5px;top:1109.7px" width="23" height="23" viewBox="0 0 23 23"><path d="M5,11.3 L9.2,15.2 L16.9,7.6" fill="none" stroke="#0B2B5E" stroke-width="1.7" stroke-linecap="round" stroke-linejoin="round"/></svg><svg style="left:200px;top:1105.4px" width="32" height="32" viewBox="0 0 32 32"><rect width="32" height="32" rx="7" fill="#E8E2DA"/><rect width="32" height="6" fill="#B8BEC4"/><ellipse cx="16" cy="14" rx="8" ry="9" fill="#2A1E18"/><ellipse cx="16" cy="15" rx="5.5" ry="6.5" fill="#D4A587"/><rect x="6" y="22" width="10" height="10" fill="#8A6A50"/><rect x="16" y="24" width="12" height="8" fill="#3A3A3A"/></svg><svg style="left:213.6px;top:1125.0px" width="18" height="18" viewBox="0 0 18 18"><circle cx="9" cy="9" r="9" fill="#0A84C6"/><text x="9" y="13.2" font-family="Liberation Sans" font-weight="700" font-size="11" fill="#fff" text-anchor="middle">in</text></svg><div class="t" style="left:245.60px;top:1110.10px;font-size:19.25px;letter-spacing:0.433px;">Vivi</div>
<div style="position:absolute;left:162.5px;top:1167.3px;width:23px;height:23px;box-sizing:border-box;border:1.3px solid #D8DDE5;border-radius:3.5px;background:#fff;"></div>
<svg style="left:162.5px;top:1167.3px" width="23" height="23" viewBox="0 0 23 23"><path d="M5,11.3 L9.2,15.2 L16.9,7.6" fill="none" stroke="#0B2B5E" stroke-width="1.7" stroke-linecap="round" stroke-linejoin="round"/></svg><svg style="left:200px;top:1163.0px" width="32" height="32" viewBox="0 0 32 32"><rect width="32" height="32" rx="7" fill="#F3F2D8"/><path d="M16,15 Q11,7 8,9 Q6,12 10,15 Q7,19 11,20 Q14,20 16,16 Q18,20 21,20 Q25,19 22,15 Q26,12 24,9 Q21,7 16,15 Z" fill="#F2C5CF" opacity="0.9"/><rect x="10" y="24" width="12" height="1" fill="#C8B9A8"/></svg><svg style="left:213.6px;top:1182.6px" width="18" height="18" viewBox="0 0 18 18"><circle cx="9" cy="9" r="9" fill="#1185FE"/><path d="M9,9.3 Q6.5,5 4.5,5 Q3.6,5 3.8,7 Q4,9.8 6.8,10.2 Q4.6,10.8 5.6,12.6 Q7.2,14.4 9,11.2 Q10.8,14.4 12.4,12.6 Q13.4,10.8 11.2,10.2 Q14,9.8 14.2,7 Q14.4,5 13.5,5 Q11.5,5 9,9.3 Z" fill="#fff"/></svg><div class="t" style="left:245.60px;top:1167.70px;font-size:19.25px;">Vi</div>
<svg style="left:264px;top:1164.8px" width="28" height="28" viewBox="0 0 28 28"><g fill="none" stroke="#0B2B5E" stroke-width="1.35" stroke-linecap="round"><path d="M4.6,5.6 Q5.6,3.2 8.3,3.6 Q10.8,4.2 10.4,6.6"/><path d="M4.6,5.6 V19.5 Q4.6,23.4 8.7,23.4 Q13.8,23.4 13.8,18 V12.5"/><path d="M13.8,13.8 Q16,11.6 19.4,12.3 Q22.6,13.5 21.6,16.5 Q20.6,18.6 18.3,18.3"/></g></svg><div style="position:absolute;left:162.5px;top:1224.9px;width:23px;height:23px;box-sizing:border-box;border:1.3px solid #D8DDE5;border-radius:3.5px;background:#fff;"></div>
<svg style="left:162.5px;top:1224.9px" width="23" height="23" viewBox="0 0 23 23"><path d="M5,11.3 L9.2,15.2 L16.9,7.6" fill="none" stroke="#0B2B5E" stroke-width="1.7" stroke-linecap="round" stroke-linejoin="round"/></svg><svg style="left:200px;top:1220.6000000000001px" width="32" height="32" viewBox="0 0 32 32"><rect width="32" height="32" rx="7" fill="#8C9AA8"/><rect y="0" width="32" height="10" fill="#A8B4C0"/><path d="M0,12 Q10,9 20,12 Q26,13 32,11 V22 H0 Z" fill="#2F4A2E"/><rect y="22" width="32" height="10" fill="#B8C4C0"/></svg><svg style="left:213.6px;top:1240.2px" width="18" height="18" viewBox="0 0 18 18"><circle cx="9" cy="9" r="9" fill="url(#igg)"/><rect x="4.5" y="4.5" width="9" height="9" rx="2.6" fill="none" stroke="#fff" stroke-width="1.4"/><circle cx="9" cy="9" r="2.1" fill="none" stroke="#fff" stroke-width="1.4"/></svg><div class="t" style="left:245.60px;top:1225.30px;font-size:19.25px;letter-spacing:0.433px;">Vivi</div>
<div style="position:absolute;left:162.5px;top:1282.5px;width:23px;height:23px;box-sizing:border-box;border:1.3px solid #D8DDE5;border-radius:3.5px;background:#fff;"></div>
<svg style="left:162.5px;top:1282.5px" width="23" height="23" viewBox="0 0 23 23"><path d="M5,11.3 L9.2,15.2 L16.9,7.6" fill="none" stroke="#0B2B5E" stroke-width="1.7" stroke-linecap="round" stroke-linejoin="round"/></svg><svg style="left:200px;top:1278.2px" width="32" height="32" viewBox="0 0 32 32"><rect width="32" height="32" rx="7" fill="#6A6458"/><ellipse cx="15" cy="9" rx="10" ry="7" fill="#D8CDB8"/><ellipse cx="15" cy="17" rx="7" ry="7" fill="#B89A80"/><path d="M4,32 Q6,22 16,24 Q26,22 28,32 Z" fill="#E8E6E2"/></svg><svg style="left:213.6px;top:1297.8px" width="18" height="18" viewBox="0 0 18 18"><circle cx="9" cy="9" r="9" fill="#000"/><path d="M9.6,4.5 V11.3 Q9.6,13.4 7.6,13.4 Q5.7,13.4 5.7,11.5 Q5.7,9.6 7.8,9.6 M9.6,4.5 Q10,6.8 12.6,7.2" fill="none" stroke="#fff" stroke-width="1.6" stroke-linecap="round"/></svg><div class="t" style="left:245.60px;top:1282.90px;font-size:19.25px;">vi</div>
<svg style="left:264px;top:1284.0px" width="20" height="20" viewBox="0 0 20 20"><path d="M4,3 Q2,8 5,12 Q7,15 6,18 M5,5 Q8,7 7,11 M13,3 Q16,8 13,12 Q11,15 12,18 M13,5 Q10,7 11,11" fill="none" stroke="#0B2B5E" stroke-width="1.2" stroke-linecap="round"/></svg><div style="position:absolute;left:162.5px;top:1340.1px;width:23px;height:23px;box-sizing:border-box;border:1.3px solid #D8DDE5;border-radius:3.5px;background:#fff;"></div>
<svg style="left:162.5px;top:1340.1px" width="23" height="23" viewBox="0 0 23 23"><path d="M5,11.3 L9.2,15.2 L16.9,7.6" fill="none" stroke="#0B2B5E" stroke-width="1.7" stroke-linecap="round" stroke-linejoin="round"/></svg><svg style="left:200px;top:1335.8px" width="32" height="32" viewBox="0 0 32 32"><rect width="32" height="32" rx="7" fill="#2A2620"/><circle cx="8" cy="5" r="2" fill="#E8D8A0"/><circle cx="22" cy="4" r="1.5" fill="#E8D8A0"/><ellipse cx="17" cy="15" rx="5" ry="6" fill="#B88A70"/><path d="M8,32 Q10,22 17,22 Q24,22 26,32 Z" fill="#4A5A7A"/></svg><svg style="left:213.6px;top:1355.3999999999999px" width="18" height="18" viewBox="0 0 18 18"><circle cx="9" cy="9" r="9" fill="#000"/><path d="M5,4.8 L12.8,13.2 M12.8,4.8 L5,13.2" stroke="#fff" stroke-width="1.3"/><path d="M5.3,4.8 H7.3 L12.7,13.2 H10.7 Z" fill="none" stroke="#fff" stroke-width="0.9"/></svg><div class="t" style="left:245.60px;top:1340.50px;font-size:19.25px;letter-spacing:0.815px;">Vie Ventanilla</div>
<div style="position:absolute;left:162.5px;top:1397.7px;width:23px;height:23px;box-sizing:border-box;border:1.3px solid #D8DDE5;border-radius:3.5px;background:#fff;"></div>
<svg style="left:162.5px;top:1397.7px" width="23" height="23" viewBox="0 0 23 23"><path d="M5,11.3 L9.2,15.2 L16.9,7.6" fill="none" stroke="#0B2B5E" stroke-width="1.7" stroke-linecap="round" stroke-linejoin="round"/></svg><svg style="left:200px;top:1393.4px" width="32" height="32" viewBox="0 0 32 32"><rect width="32" height="32" rx="7" fill="#050505"/><ellipse cx="15" cy="14" rx="5" ry="6" fill="#9A9A9A"/><path d="M6,30 Q9,21 15,21 Q20,21 22,26" stroke="#5A5A5A" stroke-width="3" fill="none"/></svg><svg style="left:213.6px;top:1413.0px" width="18" height="18" viewBox="0 0 18 18"><circle cx="9" cy="9" r="9" fill="#F00"/><rect x="4" y="5.5" width="10" height="7.5" rx="2" fill="#fff"/><path d="M7.8,7.4 L11,9.25 L7.8,11.1 Z" fill="#F00"/></svg><div class="t" style="left:245.60px;top:1398.10px;font-size:19.25px;letter-spacing:0.433px;">Vivi</div>
<div class="t" style="left:523.00px;top:43.96px;font-size:24.5px;font-weight:700;letter-spacing:-0.460px;">Active listeners</div>
<svg style="left:700px;top:40px" width="40" height="30" viewBox="700 40 40 30"><path d="M716,51.8 H729.8 L722.9,59.8 Z" fill="#0B2B5E"/></svg><svg style="left:930px;top:40px" width="40" height="30" viewBox="930 40 40 30"><path d="M936.8,56.6 H955.4 M946.1,47.3 V66" stroke="#0D62DA" stroke-width="2.4"/></svg><div class="t" style="left:974.40px;top:43.96px;font-size:24.5px;font-weight:700;color:#0A5CD6;letter-spacing:-0.509px;">Add listener</div>
<div style="position:absolute;left:523px;top:105.2px;width:588px;height:127.2px;box-sizing:border-box;background:#F4F7FB;border:1.2px solid #D9DDE3;border-radius:12px;box-shadow:inset 0 1px 4px rgba(30,40,60,0.10),inset 1px 0 3px rgba(30,40,60,0.06);"></div>
<div style="position:absolute;left:534.2px;top:122.2px;width:241.6px;height:97px;box-sizing:border-box;border:4px solid #0A68EE;border-radius:2px;"></div>
<div class="t" style="left:547.10px;top:141.70px;font-size:23.5px;letter-spacing:0.794px;">Positive messages</div>
<div class="t" style="left:548.50px;top:180.31px;font-size:17px;font-weight:700;color:#6D7889;letter-spacing:-0.189px;">20 results</div>
<div class="t" style="left:990.10px;top:179.88px;font-size:17.5px;font-weight:700;color:#6D7889;letter-spacing:-0.370px;">2 hours ago</div>
<svg style="left:1025px;top:104.5px" width="70" height="64" viewBox="0 0 70 64"><g fill="none" stroke="#8A8D9C" stroke-width="1.5" stroke-linecap="round"><circle cx="13.9" cy="40.9" r="3"/><circle cx="23.5" cy="36.7" r="3"/><path d="M7.4,55.3 Q7.5,47.4 14,47.4 Q20.6,47.4 20.8,55.3 Z" stroke-linejoin="round"/><path d="M19.6,45.3 Q21.5,43.7 24,43.7 Q29.8,43.7 29.8,51.4 H24.2"/><circle cx="56" cy="37.4" r="2.1"/><circle cx="56" cy="44.2" r="2.1"/><circle cx="56" cy="51" r="2.1"/></g></svg><div style="position:absolute;left:523.5px;top:246px;width:587.5px;height:127.5px;background:#FFFFFF;border-radius:12px;box-shadow:0 0 2px rgba(30,50,90,0.04);"></div>
<div class="t" style="left:547.90px;top:282.60px;font-size:23.5px;letter-spacing:0.750px;">Query</div>
<div class="t" style="left:548.70px;top:321.21px;font-size:17px;font-weight:700;color:#6D7889;letter-spacing:-0.312px;">3 results</div>
<div class="t" style="left:990.10px;top:320.78px;font-size:17.5px;font-weight:700;color:#6D7889;letter-spacing:-0.370px;">2 hours ago</div>
<svg style="left:1025px;top:246px" width="70" height="64" viewBox="0 0 70 64"><g fill="none" stroke="#8A8D9C" stroke-width="1.5" stroke-linecap="round"><circle cx="13.9" cy="40.9" r="3"/><circle cx="23.5" cy="36.7" r="3"/><path d="M7.4,55.3 Q7.5,47.4 14,47.4 Q20.6,47.4 20.8,55.3 Z" stroke-linejoin="round"/><path d="M19.6,45.3 Q21.5,43.7 24,43.7 Q29.8,43.7 29.8,51.4 H24.2"/><circle cx="56" cy="37.4" r="2.1"/><circle cx="56" cy="44.2" r="2.1"/><circle cx="56" cy="51" r="2.1"/></g></svg><div style="position:absolute;left:523.5px;top:386.5px;width:587.5px;height:127.5px;background:#FFFFFF;border-radius:12px;box-shadow:0 0 2px rgba(30,50,90,0.04);"></div>
<div class="t" style="left:547.10px;top:423.10px;font-size:23.5px;letter-spacing:0.883px;">Details</div>
<div class="t" style="left:547.90px;top:461.71px;font-size:17px;font-weight:700;color:#6D7889;letter-spacing:-0.222px;">no results</div>
<div class="t" style="left:990.10px;top:461.28px;font-size:17.5px;font-weight:700;color:#6D7889;letter-spacing:-0.370px;">2 hours ago</div>
<svg style="left:1025px;top:386.5px" width="70" height="64" viewBox="0 0 70 64"><g fill="none" stroke="#8A8D9C" stroke-width="1.5" stroke-linecap="round"><circle cx="13.9" cy="40.9" r="3"/><circle cx="23.5" cy="36.7" r="3"/><path d="M7.4,55.3 Q7.5,47.4 14,47.4 Q20.6,47.4 20.8,55.3 Z" stroke-linejoin="round"/><path d="M19.6,45.3 Q21.5,43.7 24,43.7 Q29.8,43.7 29.8,51.4 H24.2"/><circle cx="56" cy="37.4" r="2.1"/><circle cx="56" cy="44.2" r="2.1"/><circle cx="56" cy="51" r="2.1"/></g></svg><div style="position:absolute;left:523.5px;top:527px;width:587.5px;height:127.5px;background:#FFFFFF;border-radius:12px;box-shadow:0 0 2px rgba(30,50,90,0.04);"></div>
<div class="t" style="left:546.90px;top:563.60px;font-size:23.5px;letter-spacing:1.050px;">Inquiry</div>
<div class="t" style="left:547.90px;top:602.21px;font-size:17px;font-weight:700;color:#6D7889;letter-spacing:-0.222px;">no results</div>
<div class="t" style="left:990.10px;top:601.78px;font-size:17.5px;font-weight:700;color:#6D7889;letter-spacing:-0.370px;">2 hours ago</div>
<svg style="left:1025px;top:527px" width="70" height="64" viewBox="0 0 70 64"><g fill="none" stroke="#8A8D9C" stroke-width="1.5" stroke-linecap="round"><circle cx="13.9" cy="40.9" r="3"/><circle cx="23.5" cy="36.7" r="3"/><path d="M7.4,55.3 Q7.5,47.4 14,47.4 Q20.6,47.4 20.8,55.3 Z" stroke-linejoin="round"/><path d="M19.6,45.3 Q21.5,43.7 24,43.7 Q29.8,43.7 29.8,51.4 H24.2"/><circle cx="56" cy="37.4" r="2.1"/><circle cx="56" cy="44.2" r="2.1"/><circle cx="56" cy="51" r="2.1"/></g></svg><div style="position:absolute;left:523.5px;top:667.5px;width:587.5px;height:127.5px;background:#FFFFFF;border-radius:12px;box-shadow:0 0 2px rgba(30,50,90,0.04);"></div>
<div class="t" style="left:547.10px;top:704.10px;font-size:23.5px;letter-spacing:0.888px;">Negative Feedback</div>
<div class="t" style="left:547.90px;top:742.71px;font-size:17px;font-weight:700;color:#6D7889;letter-spacing:-0.222px;">no results</div>
<div class="t" style="left:990.10px;top:742.28px;font-size:17.5px;font-weight:700;color:#6D7889;letter-spacing:-0.370px;">2 hours ago</div>
<svg style="left:1025px;top:667.5px" width="70" height="64" viewBox="0 0 70 64"><g fill="none" stroke="#8A8D9C" stroke-width="1.5" stroke-linecap="round"><circle cx="13.9" cy="40.9" r="3"/><circle cx="23.5" cy="36.7" r="3"/><path d="M7.4,55.3 Q7.5,47.4 14,47.4 Q20.6,47.4 20.8,55.3 Z" stroke-linejoin="round"/><path d="M19.6,45.3 Q21.5,43.7 24,43.7 Q29.8,43.7 29.8,51.4 H24.2"/><circle cx="56" cy="37.4" r="2.1"/><circle cx="56" cy="44.2" r="2.1"/><circle cx="56" cy="51" r="2.1"/></g></svg><div class="t" style="left:1162.30px;top:40.89px;font-size:26.0px;font-weight:700;letter-spacing:0.475px;">Positive messages</div>
<div class="t" style="left:1161.90px;top:91.74px;font-size:26.0px;color:#0A5CD6;letter-spacing:1.870px;">Performance</div>
<div class="t" style="left:1353.90px;top:91.74px;font-size:26.0px;color:#6B7588;letter-spacing:0.650px;">Results</div>
<div style="position:absolute;left:1164px;top:137px;width:165px;height:3px;background:#0A5CD6;"></div>
<div style="position:absolute;left:2486px;top:19px;width:270px;height:66px;box-sizing:border-box;background:#F5F7FB;border:1px solid #E3E7EE;border-radius:12px;"></div>
<div class="t" style="left:2500.00px;top:42.49px;font-size:19.5px;letter-spacing:0.336px;">Jan 12, 2025 - Feb 9, 2025</div>
<svg style="left:2770px;top:30px" width="90" height="50" viewBox="2770 30 90 50"><circle cx="2795" cy="53.7" r="12.6" fill="#C9C9C9"/><path d="M2793,48.5 h3.6 v-3.2 h-3.6 z M2792.2,51.3 h4.4 v7.6 h1.5 v2.5 h-6.2 v-2.5 h1.5 v-5 h-1.2 z" fill="#fff"/><g fill="none" stroke="#8A8A8A" stroke-width="1.2"><circle cx="2845.5" cy="47.5" r="2.4"/><circle cx="2845.5" cy="54.3" r="2.4"/><circle cx="2845.5" cy="61" r="2.4"/></g></svg><div style="position:absolute;left:1163px;top:191.8px;width:837px;height:207px;background:#fff;border-radius:10px;box-shadow:0 0 22px rgba(40,60,110,0.075);"></div>
<div style="position:absolute;left:2013px;top:191.8px;width:837px;height:207px;background:#fff;border-radius:10px;box-shadow:0 0 22px rgba(40,60,110,0.075);"></div>
<div style="position:absolute;left:1176.4px;top:205.2px;width:50.2px;height:50.6px;background:#F3EEFC;border-radius:10px;"></div>
<svg style="left:1185px;top:210px" width="34" height="40" viewBox="1185 210 34 40"><path d="M1204.7,216.7 H1194 Q1192.9,216.7 1192.9,217.8 V242.9 Q1192.9,244 1194,244 H1210 Q1211.1,244 1211.1,242.9 V223.4 Z" fill="none" stroke="#8A4FD6" stroke-width="1.5" stroke-linejoin="round"/><path d="M1204.7,216.9 V221.4 Q1204.7,223.4 1206.7,223.4 H1211" fill="#F8E8FF" stroke="#8A4FD6" stroke-width="1.5" stroke-linejoin="round"/><path d="M1200.2,228.7 H1207.2 M1200.2,231.9 H1207.2 M1200.2,235.1 H1207.2 M1200.2,238.2 H1207.2" stroke="#8A4FD6" stroke-width="1.3"/><path d="M1196.6,228.7 h1.2 M1196.6,231.9 h1.2 M1196.6,235.1 h1.2 M1196.6,238.2 h1.2" stroke="#8A4FD6" stroke-width="1.1"/></svg><div class="t" style="left:1252.00px;top:219.30px;font-size:23.5px;font-weight:700;letter-spacing:-0.667px;">Results</div>
<div class="t" style="left:1174.68px;top:275.77px;font-size:37px;letter-spacing:-3.000px;transform:scaleX(0.8631);transform-origin:0 0;">12</div>
<svg style="left:1180px;top:350px" width="32" height="32" viewBox="1180 350 32 32"><path d="M1186.3,376.5 L1205.2,357.6 M1193.5,357.6 H1205.2 V369.3" fill="none" stroke="#21B07E" stroke-width="2.6" stroke-linecap="round" stroke-linejoin="miter"/></svg><div class="t" style="left:1228.64px;top:351.72px;font-size:27.5px;font-weight:700;letter-spacing:-1.000px;transform:scaleX(0.8763);transform-origin:0 0;">+71%</div>
<div class="t" style="left:1302.30px;top:355.45px;font-size:20.25px;color:#1B1D2A;letter-spacing:-0.533px;">vs Dec 14-Jan 11</div>
<div style="position:absolute;left:2026.8px;top:205.2px;width:49.7px;height:50.6px;background:#E9EEFA;border-radius:10px;"></div>
<svg style="left:2034px;top:213px" width="36" height="36" viewBox="2034 213 36 36"><circle cx="2051.4" cy="230.4" r="12.3" fill="none" stroke="#2C5CCB" stroke-width="1.6"/><circle cx="2047.2" cy="227.2" r="1.55" fill="#2C5CCB"/><circle cx="2055.7" cy="227.2" r="1.55" fill="#2C5CCB"/><path d="M2047,233.6 H2056.4 Q2055.6,237 2051.7,237 Q2047.8,237 2047,233.6 Z" fill="#8FB0F0" stroke="#2C5CCB" stroke-width="1.2" stroke-linejoin="round"/></svg><div class="t" style="left:2101.50px;top:219.31px;font-size:23.25px;font-weight:700;letter-spacing:0.124px;">Positive sentiment</div>
<div class="t" style="left:2026.10px;top:275.77px;font-size:37px;letter-spacing:-1.500px;transform:scaleX(0.9290);transform-origin:0 0;">0%</div>
<div class="t" style="left:1163.70px;top:456.34px;font-size:27.0px;font-weight:700;letter-spacing:-0.358px;">Total results</div>
<div class="t" style="left:1162.00px;top:504.56px;font-size:24.5px;color:#6B7A8C;letter-spacing:0.442px;">Results by date within current date range</div>
<svg style="left:1150px;top:580px" width="1726" height="620" viewBox="1150 580 1726 620"><defs><clipPath id="pc"><rect x="1150" y="580" width="1725.5" height="620"/></clipPath></defs><g clip-path="url(#pc)"><rect x="1214.5" y="600.8" width="1662" height="1.2" fill="#E6E6E6"/><rect x="1214.5" y="725.3" width="1662" height="1.2" fill="#E6E6E6"/><rect x="1214.5" y="848.8" width="1662" height="1.2" fill="#E6E6E6"/><rect x="1214.5" y="970.1" width="1662" height="1.2" fill="#E6E6E6"/><rect x="1214.5" y="1093.2" width="1662" height="1.6" fill="#CCD6EB"/><rect x="1300.8" y="1094" width="1.2" height="14.6" fill="#CCD6EB"/><rect x="1500.6" y="1094" width="1.2" height="14.6" fill="#CCD6EB"/><rect x="1700.6" y="1094" width="1.2" height="14.6" fill="#CCD6EB"/><rect x="1900.6" y="1094" width="1.2" height="14.6" fill="#CCD6EB"/><rect x="2100.6" y="1094" width="1.2" height="14.6" fill="#CCD6EB"/><rect x="2300.6" y="1094" width="1.2" height="14.6" fill="#CCD6EB"/><rect x="2501.4" y="1094" width="1.2" height="14.6" fill="#CCD6EB"/><rect x="2702.3" y="1094" width="1.2" height="14.6" fill="#CCD6EB"/><rect x="2902.4" y="1094" width="1.2" height="14.6" fill="#CCD6EB"/><rect x="2066.9" y="971.1" width="12.4" height="122.1" fill="#7CB5EC"/><rect x="2153.5" y="971.1" width="12.4" height="122.1" fill="#7CB5EC"/><rect x="2296.0" y="971.1" width="12.4" height="122.1" fill="#7CB5EC"/><rect x="2324.6" y="971.1" width="12.4" height="122.1" fill="#7CB5EC"/><rect x="2353.2" y="727.1" width="12.4" height="366.1" fill="#7CB5EC"/><rect x="2382.2" y="849.9" width="12.4" height="243.3" fill="#7CB5EC"/><rect x="2411.2" y="971.1" width="12.4" height="122.1" fill="#7CB5EC"/><rect x="2782.2" y="971.1" width="12.4" height="122.1" fill="#7CB5EC"/><rect x="2868.6" y="971.1" width="12.4" height="122.1" fill="#7CB5EC"/></g></svg><div class="t" style="left:1179.65px;top:592.41px;font-size:18px;">4</div>
<div class="t" style="left:1179.65px;top:716.91px;font-size:18px;">3</div>
<div class="t" style="left:1179.55px;top:840.41px;font-size:18px;">2</div>
<div class="t" style="left:1179.35px;top:961.71px;font-size:18px;">1</div>
<div class="t" style="left:1179.55px;top:1085.01px;font-size:18px;">0</div>
<div class="t" style="left:1270.95px;top:1108.66px;font-size:18px;">16. Dec</div>
<div class="t" style="left:1470.95px;top:1108.66px;font-size:18px;">23. Dec</div>
<div class="t" style="left:1671.10px;top:1108.66px;font-size:18px;">30. Dec</div>
<div class="t" style="left:1877.80px;top:1108.66px;font-size:18px;">6. Jan</div>
<div class="t" style="left:2072.60px;top:1108.66px;font-size:18px;">13. Jan</div>
<div class="t" style="left:2272.80px;top:1108.66px;font-size:18px;">20. Jan</div>
<div class="t" style="left:2473.60px;top:1108.66px;font-size:18px;">27. Jan</div>
<div class="t" style="left:2678.45px;top:1108.66px;font-size:18px;">3. Feb</div>
<div style="position:absolute;left:2800px;top:1100px;width:70px;height:40px;overflow:hidden"><div class="t" style="left:41.70px;top:8.66px;font-size:18px;">10. Feb</div>
</div><svg style="left:1990px;top:1155px" width="24" height="24" viewBox="1990 1155 24 24"><circle cx="2001.4" cy="1166.5" r="9.5" fill="#7CB5EC"/></svg><div class="t" style="left:2022.40px;top:1157.33px;font-size:20.75px;font-weight:700;letter-spacing:-0.483px;">Results</div>
<div class="t" style="left:1162.50px;top:1355.57px;font-size:26.25px;font-weight:700;letter-spacing:-0.317px;">Results</div>
<div class="t" style="left:2081.30px;top:1355.57px;font-size:26.25px;font-weight:700;letter-spacing:0.440px;">Impressions</div>
<div style="position:absolute;left:2862px;top:170.4px;width:10px;height:639px;background:rgba(175,175,175,0.65);border-radius:5px;"></div>
<div style="position:absolute;left:1144px;top:20px;width:1700px;height:1404px;box-sizing:border-box;border:8.5px solid #3254FE;border-top-width:9px;border-bottom-width:9.8px;border-radius:7px;"></div>
<svg style="left:900px;top:0" width="250" height="60" viewBox="900 0 250 60"><path d="M912.8,24.2 Q911,25.9 912.8,27.8 L1097.5,36.2 L1096,46.6 L1135.3,27.9 L1096,7 L1097.5,18.6 Z" fill="#3254FE" stroke="#3254FE" stroke-width="1" stroke-linejoin="round"/></svg></body></html>
